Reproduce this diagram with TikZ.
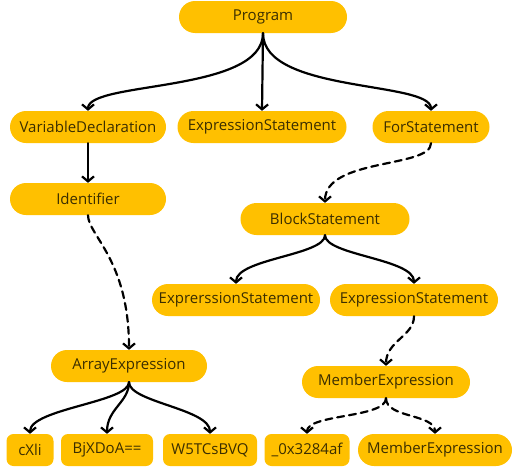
\documentclass[tikz,border=0pt]{standalone}
\usepackage{fontspec}
\setmainfont{Open Sans}
\usetikzlibrary{arrows.meta}
\definecolor{astfill}{HTML}{FFC000}
\definecolor{asttext}{HTML}{3B2E00}
\tikzset{
  astnode/.style={fill=astfill, text=asttext, rounded corners=16pt, minimum height=32pt,
    inner sep=0pt, font=\fontsize{15}{17}\selectfont},
  astleaf/.style={astnode, rounded corners=7pt},
  child/.style={line width=2.2pt, line cap=round, -{Straight Barb[length=5pt,width=12pt]}},
  lazy/.style={child, dash pattern=on 7pt off 5pt}
}
\begin{document}
\begin{tikzpicture}[x=1pt, y=-1pt]
    \useasboundingbox (0,0) rectangle (513,471);

    % Top level
    \node[astnode, minimum width=168pt] (prog) at (263,17) {Program};
    \node[astnode, minimum width=156pt] (vardecl) at (88,127) {VariableDeclaration};
    \node[astnode, minimum width=169pt] (exprstmt) at (262,127) {ExpressionStatement};
    \node[astnode, minimum width=117pt] (forstmt) at (431,127) {ForStatement};

    % Left branch
    \node[astnode, minimum width=156pt] (ident) at (88,199) {Identifier};
    \node[astnode, minimum width=156pt] (arrexpr) at (129,366) {ArrayExpression};
    \node[astleaf, minimum width=47pt] (cxli) at (30,450) {cXli};
    \node[astleaf, minimum width=92pt] (bjx) at (107,450) {BjXDoA==};
    \node[astleaf, minimum width=94pt] (wfive) at (210,450) {W5TCsBVQ};

    % Right branch
    \node[astnode, minimum width=169pt] (block) at (325,219) {BlockStatement};
    \node[astnode, minimum width=168pt] (exprr) at (236,300) {ExprerssionStatement};
    \node[astnode, minimum width=168pt] (exprtwo) at (414,300) {ExpressionStatement};
    \node[astnode, minimum width=168pt] (member) at (386,382) {MemberExpression};
    \node[astleaf, minimum width=85pt] (hexid) at (307,450) {\_0x3284af};
    \node[astnode, minimum width=154pt] (membertwo) at (435,450) {MemberExpression};

    % Edges from Program
    \draw[child] (prog.south) .. controls +(0,60) and +(0,-30) .. (vardecl.north);
    \draw[child] (prog.south) -- (exprstmt.north);
    \draw[child] (prog.south) .. controls +(0,60) and +(0,-30) .. (forstmt.north);

    % Left branch edges
    \draw[child] (vardecl.south) -- (ident.north);
    \draw[lazy] (ident.south) .. controls +(0,20) and +(0,-90) .. (arrexpr.north);
    \draw[child] (arrexpr.south) .. controls +(0,20) and +(0,-25) .. (cxli.north);
    \draw[child] (arrexpr.south) .. controls +(0,20) and +(0,-25) .. (bjx.north);
    \draw[child] (arrexpr.south) .. controls +(0,20) and +(0,-25) .. (wfive.north);

    % Right branch edges
    \draw[lazy] (forstmt.south) .. controls +(0,25) and +(0,-45) .. (block.north);
    \draw[child] (block.south) .. controls +(0,20) and +(0,-25) .. (exprr.north);
    \draw[child] (block.south) .. controls +(0,20) and +(0,-25) .. (exprtwo.north);
    \draw[lazy] (exprtwo.south) .. controls +(0,20) and +(0,-25) .. (member.north);
    \draw[lazy] (member.south) .. controls +(0,20) and +(0,-20) .. (hexid.north);
    \draw[lazy] (member.south) .. controls +(0,20) and +(0,-20) .. (membertwo.north);
\end{tikzpicture}
\end{document}
